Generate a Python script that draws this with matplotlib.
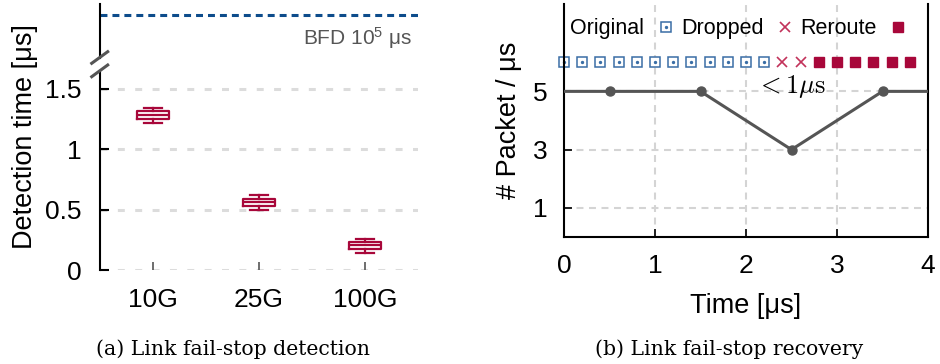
import matplotlib
matplotlib.use('Agg')
import matplotlib.pyplot as plt
from matplotlib.lines import Line2D
from matplotlib.legend_handler import HandlerTuple

plt.rcParams['font.family'] = ['Liberation Sans', 'DejaVu Sans']
plt.rcParams['mathtext.fontset'] = 'custom'
plt.rcParams['mathtext.rm'] = 'Liberation Sans'
plt.rcParams['mathtext.it'] = 'Liberation Sans:italic'
plt.rcParams['mathtext.bf'] = 'Liberation Sans:bold'
plt.rcParams['lines.scale_dashes'] = False

# (a) detection time per link speed, box stats in microseconds
links = ['10G', '25G', '100G']
whis_lo = [1.22, 0.50, 0.14]
box_q1 = [1.25, 0.53, 0.17]
box_med = [1.28, 0.56, 0.205]
box_q3 = [1.315, 0.59, 0.235]
whis_hi = [1.34, 0.62, 0.26]
bfd_us = 1e5
det_ticks = [0, 0.5, 1, 1.5]
det_ticklabels = ['0', '0.5', '1', '1.5']

# (b) packet rate during recovery
rate_t = [0, 0.5, 1.5, 2.5, 3.5, 4]
rate_pkts = [5, 5, 5, 3, 5, 5]
orig_t = [0.0, 0.2, 0.4, 0.6, 0.8, 1.0, 1.2, 1.4, 1.6, 1.8, 2.0, 2.2]
drop_t = [2.4, 2.6]
reroute_t = [2.8, 3.0, 3.2, 3.4, 3.6, 3.8]
pkt_row = 6

RED = '#a8073a'
BLUE = '#0d4c8b'
LBLUE = '#3a6ea6'
GRAY = '#555555'

W, H = 940, 364
fig = plt.figure(figsize=(W / 100, H / 100), dpi=100)


def box(x0, y0, x1, y1):
    # pixel box (top-left origin) -> figure fraction rect
    return [x0 / W, 1 - y1 / H, (x1 - x0) / W, (y1 - y0) / H]


# ---- (a) lower part with the boxes
ax = fig.add_axes(box(100, 70.8, 418, 270))
stats = []
for i in range(len(links)):
    stats.append(dict(whislo=whis_lo[i], q1=box_q1[i], med=box_med[i],
                      q3=box_q3[i], whishi=whis_hi[i], fliers=[]))
ax.bxp(stats, positions=[1, 2, 3], widths=0.31, capwidths=0.17,
       showfliers=False,
       boxprops=dict(color=RED, lw=1.6),
       medianprops=dict(color=RED, lw=1.6),
       whiskerprops=dict(color=RED, lw=1.6),
       capprops=dict(color=RED, lw=1.6))
ax.set_xlim(0.5, 3.5)
ax.set_ylim(0, 1.65)
ax.set_xticks([1, 2, 3])
ax.set_xticklabels(links, fontsize=19)
ax.set_yticks(det_ticks)
ax.set_yticklabels(det_ticklabels, fontsize=19)
for y in det_ticks:
    ax.axhline(y, color='#dcdcdc', lw=2.2, dashes=(5, 7.5), zorder=0)
for s in ['top', 'right', 'bottom']:
    ax.spines[s].set_visible(False)
ax.spines['left'].set_linewidth(1.5)
ax.tick_params(axis='y', direction='in', length=6.5, width=1.5, pad=13)
ax.tick_params(axis='x', direction='in', length=5.5, width=1.2,
               color=GRAY, pad=13)

# ---- (a) upper part with the BFD reference
axt = fig.add_axes(box(100, 4, 418, 57.5))
axt.axhline(bfd_us, color=BLUE, lw=2.2, dashes=(5, 3.6))
axt.set_xlim(0.5, 3.5)
axt.set_ylim(0, bfd_us / 0.794)
axt.set_xticks([])
axt.set_yticks([])
for s in ['top', 'right', 'bottom']:
    axt.spines[s].set_visible(False)
axt.spines['left'].set_linewidth(1.5)
axt.text(0.981, 0.36, r'BFD 10$^5$ μs', transform=axt.transAxes,
         ha='right', va='center', fontsize=15, color=GRAY)

# axis break marks
for y0, y1 in [(63.3, 51.7), (76.7, 65)]:
    fig.add_artist(Line2D([91.7 / W, 107.7 / W], [1 - y0 / H, 1 - y1 / H],
                          color=GRAY, lw=2.2))

fig.text(25 / W, 1 - 137 / H, 'Detection time [μs]', rotation=90,
         ha='center', va='center', fontsize=19.5)

# ---- (b) recovery
bx = fig.add_axes(box(564, 4, 928, 237))
bx.plot(rate_t, rate_pkts, color=GRAY, lw=2.2, marker='o', ms=6.5,
        markevery=[1, 2, 3, 4], zorder=3)
o1, = bx.plot(orig_t, [pkt_row] * len(orig_t), 's', ms=7, mfc='white',
              mec=LBLUE, mew=1.1, ls='none', clip_on=False)
o2, = bx.plot(orig_t, [pkt_row] * len(orig_t), 'o', ms=1.4, color=LBLUE,
              ls='none', clip_on=False)
d1, = bx.plot(drop_t, [pkt_row] * len(drop_t), 'x', ms=7.5, mew=1.2,
              color='#c2325a', ls='none')
r1, = bx.plot(reroute_t, [pkt_row] * len(reroute_t), 's', ms=7.8,
              color=RED, ls='none')
bx.text(2.5, 5.17, r'$< 1\mu\mathrm{s}$', math_fontfamily='cm',
        ha='center', va='center', fontsize=19)
bx.set_xlim(0, 4)
bx.set_ylim(0, 8)
bx.set_xticks([0, 1, 2, 3, 4])
bx.set_yticks([1, 3, 5])
bx.tick_params(labelsize=19, direction='in', length=6, width=1.2, pad=12)
for s in bx.spines.values():
    s.set_linewidth(1.5)
bx.spines['top'].set_visible(False)
for x in [1, 2, 3]:
    bx.axvline(x, color='#d4d4d4', lw=1.5, dashes=(5, 4), zorder=0)
for y in [1, 3, 5]:
    bx.axhline(y, color='#d4d4d4', lw=1.5, dashes=(5, 4), zorder=0)
bx.set_xlabel('Time [μs]', fontsize=19.5, labelpad=11)
bx.set_ylabel('# Packet / μs', fontsize=19.5, labelpad=8)
bx.legend([(o1, o2), d1, r1], ['Original', 'Dropped', 'Reroute'],
          handler_map={tuple: HandlerTuple(ndivide=1, pad=0)},
          ncol=3, markerfirst=False, frameon=False, fontsize=15.5,
          loc='upper left', bbox_to_anchor=(-0.012, 0.985), borderaxespad=0.3,
          borderpad=0.2, handlelength=0.8, handletextpad=0.6,
          columnspacing=0.3)

fig.text(233 / W, 1 - 349 / H, '(a) Link fail-stop detection',
         family='DejaVu Serif', ha='center', va='center', fontsize=14.7)
fig.text(729 / W, 1 - 349 / H, '(b) Link fail-stop recovery',
         family='DejaVu Serif', ha='center', va='center', fontsize=14.7)

fig.savefig('out.png', dpi=100)
